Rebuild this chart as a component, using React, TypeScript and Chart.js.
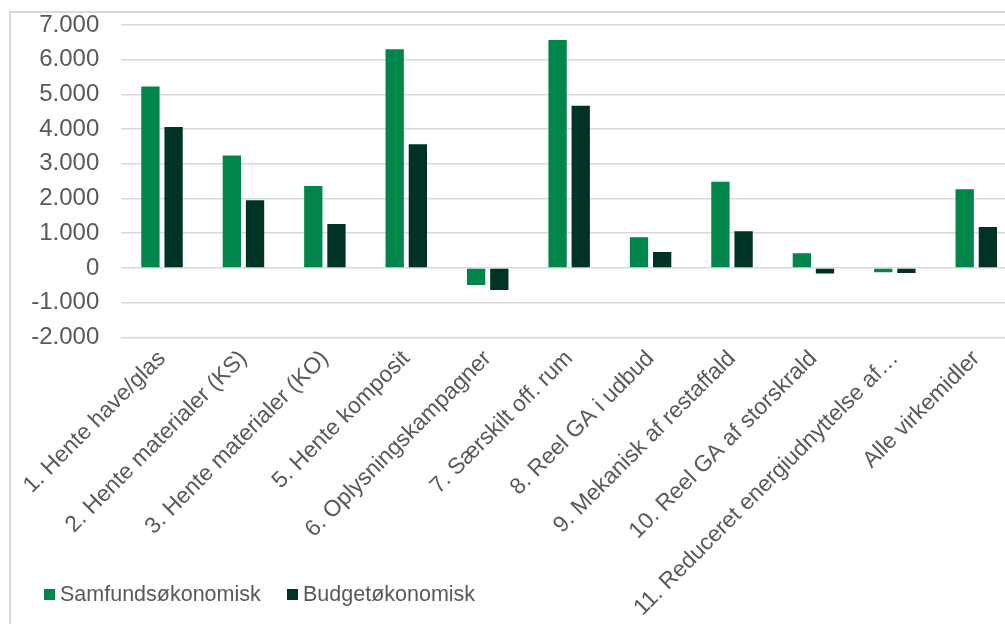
import React, { useEffect, useRef } from "react";
import { Chart, registerables } from "chart.js";

Chart.register(...registerables);

const categories = [
  "1. Hente have/glas",
  "2. Hente materialer (KS)",
  "3. Hente materialer (KO)",
  "5. Hente komposit",
  "6. Oplysningskampagner",
  "7. Særskilt off. rum",
  "8. Reel GA i udbud",
  "9. Mekanisk af restaffald",
  "10. Reel GA af storskrald",
  "11. Reduceret energiudnyttelse af…",
  "Alle virkemidler",
];
const samfundsokonomisk = [5230, 3240, 2360, 6300, -490, 6570, 880, 2480, 420, -125, 2270];
const budgetokonomisk = [4060, 1950, 1265, 3560, -640, 4675, 460, 1055, -160, -150, 1180];
const seriesNames = ["Samfundsøkonomisk", "Budgetøkonomisk"];
const seriesColors = ["#00864B", "#003226"];

const FONT = "'Liberation Sans', Arial, sans-serif";
const TEXT = "#595959";
const GRID = "#d9d9d9";

export default function App() {
  const ref = useRef<HTMLCanvasElement | null>(null);

  useEffect(() => {
    if (!ref.current) return;
    const chart = new Chart(ref.current, {
      type: "bar",
      data: {
        labels: categories,
        datasets: [
          {
            label: seriesNames[0],
            data: samfundsokonomisk,
            backgroundColor: seriesColors[0],
            categoryPercentage: 0.569,
            barPercentage: 0.79,
          },
          {
            label: seriesNames[1],
            data: budgetokonomisk,
            backgroundColor: seriesColors[1],
            categoryPercentage: 0.569,
            barPercentage: 0.79,
          },
        ],
      },
      options: {
        responsive: false,
        animation: false,
        maintainAspectRatio: false,
        layout: { padding: { top: 25, left: 0, right: 4, bottom: 0 } },
        plugins: {
          legend: { display: false },
          tooltip: { enabled: false },
        },
        scales: {
          x: {
            grid: { display: false, drawTicks: false },
            border: { display: false },
            ticks: {
              autoSkip: false,
              maxRotation: 45,
              minRotation: 45,
              padding: 8,
              color: TEXT,
              font: { family: FONT, size: 22.8 },
            },
            afterFit: (scale: any) => {
              scale.height = 624 - 337.3;
              scale.paddingLeft = 0;
              scale.paddingRight = 0;
            },
          },
          y: {
            min: -2000,
            max: 7000,
            grid: { color: GRID, lineWidth: 1.5, drawTicks: false },
            border: { display: false },
            ticks: {
              stepSize: 1000,
              padding: 22,
              color: TEXT,
              font: { family: FONT, size: 24 },
              callback: (v: any) => {
                const n = Number(v);
                if (n === 0) return "0";
                const s = Math.abs(n).toString().replace(/\B(?=(\d{3})+(?!\d))/g, ".");
                return (n < 0 ? "-" : "") + s;
              },
            },
            afterFit: (scale: any) => {
              scale.width = 121.3;
              scale.paddingTop = 0;
              scale.paddingBottom = 0;
            },
          },
        },
      },
    });
    return () => chart.destroy();
  }, []);

  const legendItem = (i: number, left: number) => (
    <div
      key={i}
      style={{
        position: "absolute",
        left,
        top: 582,
        display: "flex",
        alignItems: "center",
        fontFamily: FONT,
        fontSize: 21.5,
        color: TEXT,
        whiteSpace: "nowrap",
      }}
    >
      <span
        style={{
          display: "inline-block",
          width: 11,
          height: 11,
          background: seriesColors[i],
          marginRight: 5,
        }}
      />
      <span>{seriesNames[i]}</span>
    </div>
  );

  return (
    <div
      style={{
        position: "absolute",
        left: 0,
        top: 0,
        width: 1005,
        height: 624,
        overflow: "hidden",
        background: "#ffffff",
      }}
    >
      <div
        style={{
          position: "absolute",
          left: 9,
          top: 11,
          width: 1100,
          height: 700,
          borderLeft: `2px solid ${GRID}`,
          borderTop: `2px solid ${GRID}`,
        }}
      />
      <canvas
        ref={ref}
        width={1021}
        height={624}
        style={{ position: "absolute", left: 0, top: 0, width: 1021, height: 624 }}
      />
      {legendItem(0, 44)}
      {legendItem(1, 287)}
    </div>
  );
}
